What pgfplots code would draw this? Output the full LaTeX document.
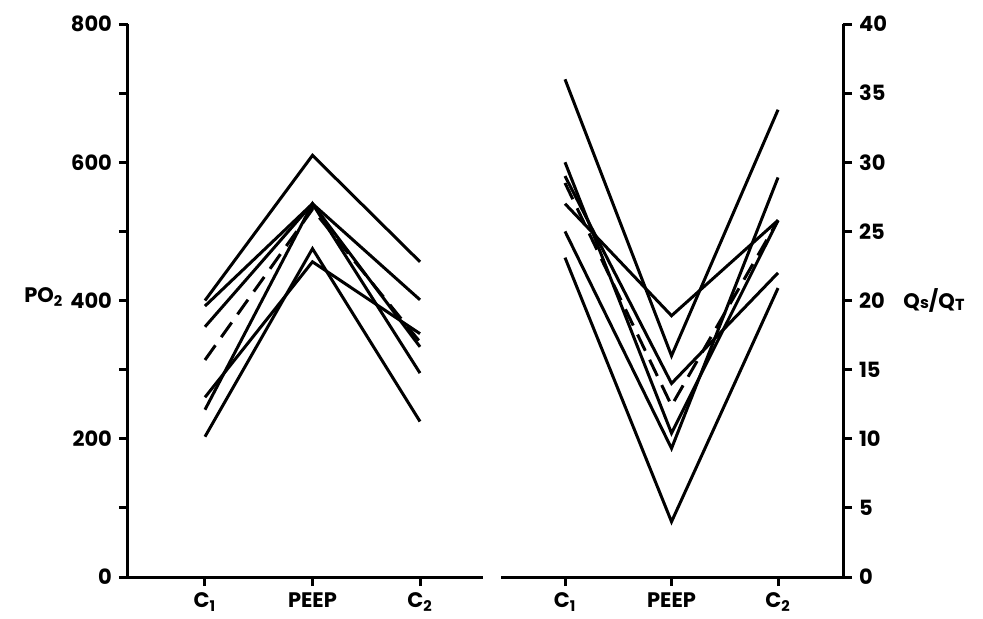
\documentclass[border=0pt]{standalone}
\usepackage{pgfplots}
\pgfplotsset{compat=1.18}
\usepackage{fontspec}
\setmainfont{Poppins}
\begin{document}
\begin{tikzpicture}
\pgfplotsset{
  panel/.style={
    scale only axis, height=276.5pt,
    axis x line*=bottom,
    axis line style={line width=1.5pt,-},
    every tick/.style={black, line width=1.5pt},
    tick align=outside,
    major tick length=4.5pt, minor tick length=4.5pt,
    xtick={1,2,3},
    xticklabels={C\textsubscript{1},PEEP,C\textsubscript{2}},
    tick label style={font=\bfseries\fontsize{10.5}{12}\selectfont},
    /pgf/number format/assume math mode=true,
    label style={font=\bfseries\fontsize{10.5}{12}\selectfont},
    cycle list={black,mark=none,line width=1.5pt\\},
    every axis plot/.append style={line width=1.5pt, line join=miter},
    clip=false,
  },
}
\begin{axis}[panel, at={(0pt,0pt)}, anchor=south west,
  width=177.5pt, xmin=0.284, xmax=3.586,
  axis y line*=left, ymin=0, ymax=800,
  ytick={0,200,400,600,800}, minor ytick={100,300,500,700},
  ylabel={PO\textsubscript{2}},
  ylabel style={rotate=-90, at={(axis description cs:-0.237,0.506)}, anchor=center},
]
\addplot coordinates {(1,400)(2,610)(3,456)};
\addplot coordinates {(1,392)(2,540)(3,401)};
\addplot coordinates {(1,362)(2,540)(3,333)};
\addplot coordinates {(1,242)(2,540)(3,295)};
\addplot coordinates {(1,260)(2,456)(3,352)};
\addplot coordinates {(1,203)(2,475)(3,225)};
\addplot+[dash pattern=on 9pt off 5pt] coordinates {(1,314)(2,532)(3,340)};
\end{axis}
\begin{axis}[panel, at={(186.5pt,0pt)}, anchor=south west,
  width=171pt, xmin=0.399, xmax=3.61,
  axis y line*=right, ymin=0, ymax=40,
  ytick={0,5,...,40},
  ylabel={\bfseries Q{\footnotesize\bfseries s}/Q\raisebox{-0.2ex}{\footnotesize\bfseries T}},
  ylabel style={rotate=-90, at={(axis description cs:1.266,0.5)}, anchor=center},
]
\addplot coordinates {(1,36)(2,16.0)(3,33.8)};
\addplot coordinates {(1,27)(2,18.9)(3,25.8)};
\addplot coordinates {(1,29)(2,14.0)(3,22.0)};
\addplot coordinates {(1,30)(2,10.4)(3,25.8)};
\addplot coordinates {(1,25)(2,9.3)(3,28.9)};
\addplot coordinates {(1,23.1)(2,4.0)(3,20.9)};
\addplot+[dash pattern=on 9pt off 5pt] coordinates {(1,28.5)(2,12.4)(3,25.8)};
\end{axis}
\path (-64pt,-20pt) rectangle (427.5pt,288.5pt);
\end{tikzpicture}
\end{document}
